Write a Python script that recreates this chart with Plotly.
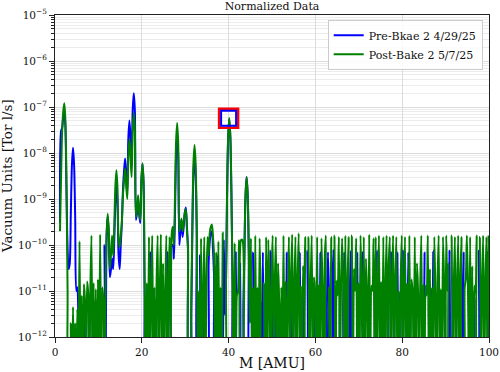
import plotly.graph_objects as go

# ---- data (Torr l/s), scan grid: 1.15 AMU + 0.25 AMU steps ----
# each row = one AMU: values at n+0.15, n+0.40, n+0.65, n+0.90 ; 0 = below detection
pre_signal = [
    3e-10, 3e-8, 3.5e-8, 6e-8,        # 1
    8.5e-8, 3.5e-8, 1.5e-9, 8e-11,    # 2
    3e-11, 4e-11, 5e-10, 5.5e-9,      # 3
    1.3e-8, 5.5e-9, 4e-10, 1e-11,     # 4
    1.2e-11, 2e-12, 0, 0,             # 5
    0, 3e-12, 0, 5e-12,               # 6
    4e-12, 0, 0, 6e-12,               # 7
    0, 0, 5e-12, 0,                   # 8
    3e-12, 0, 0, 4e-12,               # 9
    5e-12, 0, 4e-12, 0,               # 10
    0, 1e-10, 0, 1.6e-10,             # 11
    4.2e-10, 1.6e-10, 2e-11, 3e-11,   # 12
    5e-11, 3e-11, 1.2e-10, 8e-10,     # 13
    1.9e-9, 8e-10, 6e-11, 3e-11,      # 14
    1e-10, 3e-10, 1.5e-9, 4e-9,       # 15
    7.6e-9, 3.2e-9, 1.3e-9, 2.1e-8,   # 16
    5.1e-8, 2.15e-8, 5e-9, 8.4e-8,    # 17
    2e-7, 8.4e-8, 3.5e-10, 5e-10,     # 18
    1e-9, 4.5e-10, 3e-10, 2.5e-9,     # 19
    5.9e-9, 2.3e-9, 1e-11, 0,         # 20
    0, 5e-12, 0, 7e-11,               # 21
    0, 0, 4e-12, 0,                   # 22
    6e-12, 0, 0, 3e-12,               # 23
    0, 0, 8e-12, 0,                   # 24
    4e-12, 0, 0, 7e-11,               # 25
    0, 0, 5e-12, 1e-10,               # 26
    1e-10, 5e-11, 5e-10, 9e-9,        # 27
    2.2e-8, 8e-9, 1e-10, 2e-10,       # 28
    3.5e-10, 1.5e-10, 2.5e-10, 5e-10, # 29
    6.5e-10, 2.5e-10, 8e-11, 0,       # 30
    0, 3e-12, 2e-10, 3.5e-9,          # 31
    9e-9, 3.5e-9, 2e-10, 0,           # 32
    0, 6e-11, 0, 4e-12,               # 33
    5e-12, 0, 0, 0,                   # 34
    0, 4e-11, 1.2e-10, 1.8e-10,       # 35
    2e-10, 8e-11, 2e-11, 0,           # 36
    0, 6e-11, 0, 5e-12,               # 37
    0, 5e-12, 0, 1.3e-10,             # 38
    3e-12, 1.5e-11, 1.3e-9, 2.2e-8,   # 39
    5.5e-8, 2.2e-8, 1.3e-9, 1.5e-11,  # 40
    0, 0, 7e-11, 0,                   # 41
    0, 0, 4e-11, 0,                   # 42
    0, 5e-12, 7e-11, 1.2e-9,          # 43
    3e-9, 1.2e-9, 7e-11, 0,           # 44
    0, 0, 7e-11, 0,                   # 45
    5e-12, 0, 8e-12, 0,               # 46
    0, 6e-12, 0, 7e-11,               # 47
    0, 1e-11, 0, 5e-12,               # 48
    0, 0, 7.5e-11, 0,                 # 49
    6e-12, 0, 0, 8e-12,               # 50
    0, 1.2e-11, 0, 0,                 # 51
    5e-12, 0, 0, 1e-11,               # 52
    0, 7e-11, 0, 0,                   # 53
    8e-12, 0, 6e-12, 0,               # 54
    0, 0, 1.1e-11, 0,                 # 55
    0, 7e-11, 0, 6e-12,               # 56
    0, 9e-12, 0, 0,                   # 57
    7.5e-11, 0, 5e-12, 0,             # 58
    0, 6e-12, 0, 1e-11,               # 59
    4e-12, 0, 8e-12, 0,               # 60
    7e-11, 0, 0, 7e-12,               # 61
    0, 0, 5e-12, 7e-11,               # 62
    6e-12, 0, 0, 1.1e-11,             # 63
    8e-11, 0, 6e-12, 0,               # 64
    0, 0, 1e-11, 0,                   # 65
    0, 5e-12, 7e-11, 0,               # 66
    8e-12, 0, 0, 6e-12,               # 67
    7.5e-11, 0, 9e-12, 0,             # 68
    0, 0, 7e-11, 0,                   # 69
    6e-12, 0, 0, 7e-11,               # 70
    0, 1e-11, 0, 0,                   # 71
    5e-12, 0, 7e-12, 0,               # 72
    0, 0, 1.2e-11, 0,                 # 73
    7.5e-11, 0, 0, 6e-12,             # 74
    0, 8e-12, 0, 0,                   # 75
    0, 0, 5e-12, 0,                   # 76
    0, 7e-11, 0, 0,                   # 77
    6e-12, 0, 0, 7e-11,               # 78
    0, 9e-12, 0, 0,                   # 79
    7.5e-11, 0, 0, 8e-12,             # 80
    0, 7e-11, 0, 5e-12,               # 81
    0, 0, 1e-11, 0,                   # 82
    6e-12, 0, 0, 0,                   # 83
    0, 0, 8e-12, 0,                   # 84
    7e-11, 0, 0, 0,                   # 85
    5e-12, 0, 1.1e-11, 0,             # 86
    7.5e-11, 0, 0, 6e-12,             # 87
    0, 0, 9e-12, 0,                   # 88
    7e-12, 0, 0, 5e-12,               # 89
    0, 0, 0, 7.5e-11,                 # 90
    0, 0, 1e-11, 0,                   # 91
    0, 6e-12, 0, 0,                   # 92
    8e-12, 0, 0, 5e-12,               # 93
    7e-11, 0, 0, 0,                   # 94
    0, 9e-12, 0, 6e-12,               # 95
    0, 0, 7e-12, 0,                   # 96
    0, 0, 7.5e-11, 0,                 # 97
    6e-12, 0, 0, 0,                   # 98
    0, 0, 7e-11, 0,                   # 99
]

post_signal = [
    2e-10, 3e-9, 3e-8, 8e-8,          # 1
    1.2e-7, 5e-8, 2e-9, 1e-11,        # 2
    0, 0, 2e-12, 0,                   # 3
    4.5e-12, 0, 2e-12, 0,             # 4
    4e-12, 0, 1.2e-10, 0,             # 5
    8e-12, 0, 1.4e-11, 6e-12,         # 6
    0, 1.6e-11, 9e-12, 0,             # 7
    1.2e-11, 1.6e-10, 0, 1.5e-11,     # 8
    0, 1.1e-11, 0, 1.8e-11,           # 9
    0, 1.7e-10, 0, 1.2e-11,           # 10
    6e-12, 0, 1.3e-11, 1.9e-10,       # 11
    4.8e-10, 2e-10, 3e-11, 6e-11,     # 12
    1.6e-10, 6e-11, 2.5e-10, 1.8e-9,  # 13
    4.2e-9, 1.7e-9, 1.3e-10, 9e-11,   # 14
    1.6e-10, 3e-10, 1.2e-9, 2.5e-9,   # 15
    4.6e-9, 1.95e-9, 1e-9, 8.5e-9,    # 16
    2e-8, 8.4e-9, 3e-9, 3.1e-8,       # 17
    7.4e-8, 3.1e-8, 4e-10, 6e-10,     # 18
    1.2e-9, 5e-10, 3.5e-10, 2.5e-9,   # 19
    5.9e-9, 2.3e-9, 1e-11, 0,         # 20
    1.5e-11, 0, 1.5e-10, 0,           # 21
    8e-12, 1.6e-10, 0, 1.2e-11,       # 22
    0, 1.4e-11, 1.6e-10, 0,           # 23
    1e-11, 1.7e-10, 0, 4e-11,         # 24
    0, 9e-12, 1.6e-10, 0,             # 25
    1.2e-11, 1.5e-10, 0, 1.8e-10,     # 26
    2.5e-10, 1e-10, 1.1e-9, 1.8e-8,   # 27
    4.5e-8, 1.5e-8, 2e-10, 2.5e-10,   # 28
    3.7e-10, 2e-10, 3e-10, 5e-10,     # 29
    6e-10, 2e-10, 8e-11, 0,           # 30
    0, 5e-12, 3e-10, 6e-9,            # 31
    1.5e-8, 6e-9, 3e-10, 0,           # 32
    1e-11, 0, 1.4e-10, 0,             # 33
    8e-12, 1.5e-10, 0, 1.2e-11,       # 34
    1.5e-10, 6e-11, 1.8e-10, 2.5e-10, # 35
    2.8e-10, 1.5e-10, 6e-11, 0,       # 36
    7e-11, 0, 1.2e-10, 0,             # 37
    1.2e-11, 0, 1.9e-10, 0,           # 38
    0, 1.5e-11, 1.4e-9, 2.3e-8,       # 39
    5.8e-8, 2.3e-8, 1.4e-9, 1.5e-11,  # 40
    0, 1.1e-10, 0, 8e-12,             # 41
    1e-11, 1.3e-10, 0, 1.3e-10,       # 42
    1.3e-10, 0, 7e-11, 1.2e-9,        # 43
    3e-9, 1.2e-9, 7e-11, 2e-12,       # 44
    1.4e-10, 0, 1.2e-11, 0,           # 45
    1.6e-10, 0, 1.2e-11, 0,           # 46
    1.4e-10, 8e-12, 0, 0,             # 47
    1.5e-11, 0, 1.5e-10, 0,           # 48
    1.3e-10, 1e-11, 0, 2e-11,         # 49
    1.6e-10, 0, 1.4e-11, 1.5e-10,     # 50
    0, 4e-11, 6e-12, 0,               # 51
    1.2e-11, 0, 1.6e-10, 0,           # 52
    1.6e-11, 0, 8e-12, 1.5e-10,       # 53
    0, 2e-11, 1.7e-10, 0,             # 54
    1.1e-11, 1.5e-10, 0, 1.6e-11,     # 55
    1.8e-10, 0, 1.3e-11, 0,           # 56
    3.5e-11, 7e-12, 1.5e-10, 0,       # 57
    0, 1.5e-10, 0, 1.2e-11,           # 58
    1.6e-10, 0, 2e-11, 9e-12,         # 59
    0, 1.5e-10, 0, 1.4e-11,           # 60
    0, 1.4e-10, 1e-11, 0,             # 61
    4.5e-11, 1.6e-10, 0, 0,           # 62
    1.2e-11, 0, 1.5e-10, 0,           # 63
    0, 1.6e-10, 0, 1.7e-11,           # 64
    8e-12, 1.5e-10, 0, 1.2e-11,       # 65
    1.4e-10, 1.5e-11, 0, 1.6e-10,     # 66
    0, 1.3e-11, 1.5e-10, 0,           # 67
    0, 1.6e-10, 0, 3e-11,             # 68
    1e-11, 1.4e-10, 0, 1.5e-11,       # 69
    0, 1.6e-10, 1.2e-11, 0,           # 70
    1.5e-10, 0, 5e-11, 8e-12,         # 71
    0, 1.7e-10, 0, 1.3e-11,           # 72
    1e-11, 1.4e-10, 0, 1.5e-10,       # 73
    0, 1.2e-11, 1.6e-10, 0,           # 74
    1.6e-11, 0, 1.5e-10, 0,           # 75
    1.1e-11, 1.6e-10, 0, 3.5e-11,     # 76
    1.5e-10, 0, 1.3e-11, 1.6e-10,     # 77
    0, 1.4e-11, 1.5e-10, 0,           # 78
    1e-11, 0, 1.7e-11, 1.6e-10,       # 79
    0, 1.2e-11, 1.5e-10, 0,           # 80
    1.5e-11, 0, 1.6e-10, 0,           # 81
    1.8e-11, 9e-12, 0, 1.5e-10,       # 82
    0, 4e-11, 1e-11, 0,               # 83
    1.2e-11, 1.6e-10, 0, 1.4e-11,     # 84
    0, 1.3e-11, 8e-12, 1.6e-10,       # 85
    0, 3e-11, 0, 1.2e-11,             # 86
    0, 1.5e-10, 1e-11, 0,             # 87
    1.6e-11, 1.6e-10, 0, 1.1e-11,     # 88
    0, 1.5e-10, 1.4e-11, 0,           # 89
    1.6e-10, 1e-11, 4e-11, 0,         # 90
    0, 1.6e-10, 0, 1.3e-11,           # 91
    1.5e-10, 0, 1.2e-11, 1.6e-10,     # 92
    0, 1.5e-11, 1.5e-10, 0,           # 93
    0, 1.2e-11, 1.8e-11, 1.6e-10,     # 94
    1.1e-11, 0, 1.5e-10, 0,           # 95
    3.5e-11, 0, 1.3e-11, 9e-12,       # 96
    1.6e-10, 0, 0, 1.5e-10,           # 97
    0, 1.4e-11, 1.6e-10, 0,           # 98
    1.2e-11, 1.5e-10, 0, 1.6e-10,     # 99
]

scan_start = 1.15   # AMU
scan_step = 0.25    # AMU
mass = [round(scan_start + scan_step * i, 2) for i in range(len(pre_signal))]

series_names = ["Pre-Bkae 2 4/29/25", "Post-Bake 2 5/7/25"]
series_colors = ["blue", "green"]

highlight_mass = [40.0]
highlight_value = [5.7e-8]

x_ticks = [0, 20, 40, 60, 80, 100]
y_decades = list(range(-12, -4))

FLOOR = 1e-13  # values at/below zero are clipped below the axis (log scale)
FONT = "DejaVu Serif"


def clip(vals):
    return [v if v > 0 else FLOOR for v in vals]


fig = go.Figure()
for name, color, sig in zip(series_names, series_colors, [pre_signal, post_signal]):
    fig.add_trace(go.Scatter(x=mass, y=clip(sig), mode="lines", name=name,
                             line=dict(color=color, width=2, shape="spline", smoothing=0.8)))

fig.add_trace(go.Scatter(x=highlight_mass, y=highlight_value, mode="markers", showlegend=False,
                         marker=dict(symbol="square-open", size=19,
                                     line=dict(color="red", width=2.5), color="red")))
fig.add_trace(go.Scatter(x=highlight_mass, y=highlight_value, mode="markers", showlegend=False,
                         marker=dict(symbol="square-open", size=15,
                                     line=dict(color="blue", width=2), color="blue")))

y_tickvals = [10.0 ** d for d in y_decades]
y_ticktext = ["10<sup>\u2212%d</sup>" % (-d) for d in y_decades]
minor_vals = [k * 10.0 ** d for d in y_decades[:-1] for k in range(2, 10)]

axis_common = dict(showline=True, linecolor="#222222", linewidth=1, mirror=True,
                   ticks="outside", tickcolor="#222222", ticklen=5, tickwidth=1,
                   tickfont=dict(family=FONT, size=10.5, color="#111111"),
                   gridcolor="#dcdcdc", gridwidth=1, zeroline=False, automargin=False)

fig.update_layout(
    width=500, height=372,
    margin=dict(l=55, r=11, t=15, b=35),
    paper_bgcolor="white", plot_bgcolor="white",
    title=dict(text="Normalized Data", x=0.5, xref="paper", xanchor="center",
               y=1 - 6 / 372, yref="container", yanchor="middle",
               font=dict(family=FONT, size=11, color="#111111")),
    xaxis=dict(range=[0, 100], tickvals=x_ticks, **axis_common),
    yaxis=dict(type="log", range=[-12, -5], tickvals=y_tickvals, ticktext=y_ticktext,
               minor=dict(tickvals=minor_vals, ticks="outside", ticklen=3,
                          tickcolor="#222222", showgrid=True, gridcolor="#ececec"),
               **axis_common),
    legend=dict(x=0.9855, xanchor="right", y=0.985, yanchor="top",
                bgcolor="rgba(255,255,255,0.85)", bordercolor="#cccccc", borderwidth=1,
                font=dict(family=FONT, size=11, color="#111111")),
    annotations=[
        dict(text="M [AMU]", xref="paper", yref="paper", x=0.5, y=-(363 - 337) / 322,
             xanchor="center", yanchor="middle", showarrow=False,
             font=dict(family=FONT, size=14, color="#111111")),
        dict(text="Vacuum Units [Tor l/s]", xref="paper", yref="paper",
             x=-(55 - 7) / 434, y=0.5, xanchor="center", yanchor="middle",
             textangle=-90, showarrow=False,
             font=dict(family=FONT, size=13.5, color="#111111")),
    ],
    showlegend=True,
)

fig.write_html("out.html", config={"displayModeBar": False},
               post_script="document.body.style.margin='0';")
